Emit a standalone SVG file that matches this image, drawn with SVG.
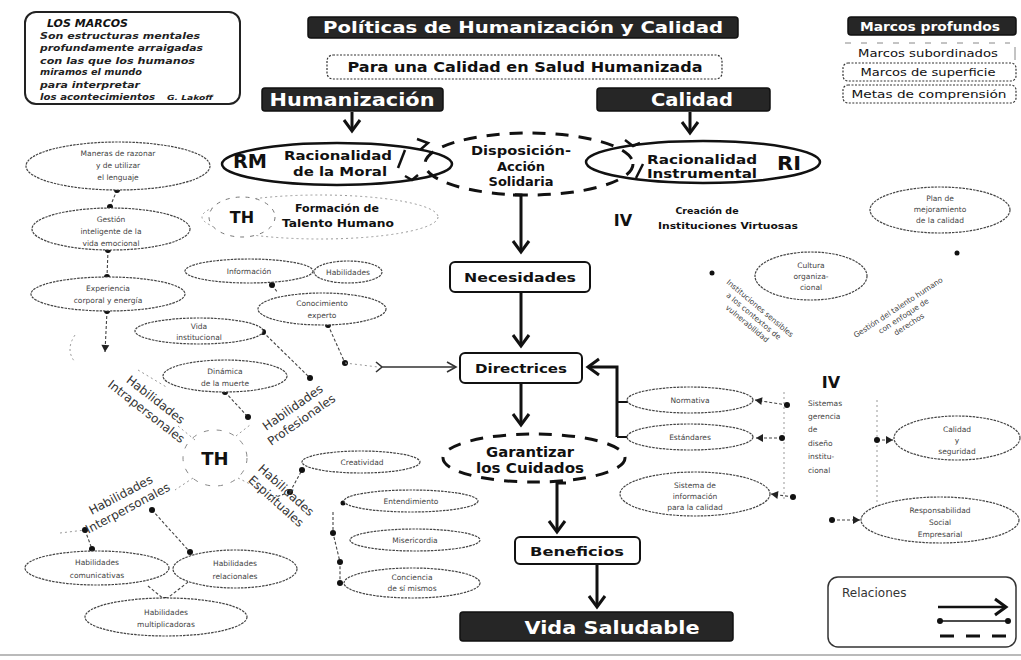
<svg xmlns="http://www.w3.org/2000/svg" width="1021" height="660" viewBox="0 0 1021 660">
<style>
.bg{fill:#fff}
.ban{fill:#262626;stroke:#111;stroke-width:1.5}
.bt{font-family:"DejaVu Sans",sans-serif;font-weight:bold;fill:#fff;text-anchor:middle}
.t{font-family:"DejaVu Sans",sans-serif;fill:#111;text-anchor:middle}
.b{font-weight:bold}
.box{fill:#fff;stroke:#111;stroke-width:2}
.dbox{fill:#fff;stroke:#333;stroke-width:1.2;stroke-dasharray:2 1.5}
.se{fill:#fff;stroke:#444;stroke-width:1.2;stroke-dasharray:2.5 1}
.st{font-family:"DejaVu Sans",sans-serif;font-size:7.5px;fill:#444;text-anchor:middle}
.rl{font-family:"DejaVu Sans",sans-serif;font-size:12px;fill:#333;text-anchor:middle}
.big{fill:none;stroke:#111;stroke-width:2.5}
.dash{fill:none;stroke:#111;stroke-width:3;stroke-dasharray:13 10}
.main{fill:none;stroke:#111;stroke-width:3}
.thin{fill:none;stroke:#444;stroke-width:1.1;stroke-dasharray:3 2}
.faint{fill:none;stroke:#999;stroke-width:1;stroke-dasharray:2 3}
.dot{fill:#111}
</style>
<defs>
<marker id="ah" markerUnits="userSpaceOnUse" markerWidth="20" markerHeight="20" refX="14" refY="10" orient="auto" viewBox="0 0 20 20">
<path d="M3,2 L14,10 L3,18" fill="none" stroke="#111" stroke-width="3"/>
</marker>
<marker id="ahs" markerUnits="userSpaceOnUse" markerWidth="14" markerHeight="14" refX="11" refY="7" orient="auto" viewBox="0 0 14 14">
<path d="M2,2 L11,7 L2,12" fill="none" stroke="#333" stroke-width="1.6"/>
</marker>
<marker id="tri" markerUnits="userSpaceOnUse" markerWidth="10" markerHeight="10" refX="8" refY="5" orient="auto" viewBox="0 0 10 10">
<path d="M1,1 L8,5 L1,9 Z" fill="#222"/>
</marker>
<marker id="md" markerUnits="userSpaceOnUse" markerWidth="8" markerHeight="8" refX="4" refY="4" viewBox="0 0 8 8">
<circle cx="4" cy="4" r="3" fill="#111"/>
</marker>
</defs>
<rect class="bg" x="0" y="0" width="1021" height="660"/>

<!-- Frame: LOS MARCOS -->
<g id="los-marcos">
<rect x="25" y="12" width="215" height="92" rx="11" fill="#fff" stroke="#222" stroke-width="2"/>
<text x="47" y="27" font-family="DejaVu Sans,sans-serif" font-size="11" font-weight="bold" font-style="italic" fill="#111">LOS MARCOS</text>
<g font-family="DejaVu Sans,sans-serif" font-size="8.5" font-weight="bold" font-style="italic" fill="#222">
<text x="40" y="39" textLength="160" lengthAdjust="spacingAndGlyphs">Son estructuras mentales</text>
<text x="40" y="51" textLength="163" lengthAdjust="spacingAndGlyphs">profundamente arraigadas</text>
<text x="40" y="64" textLength="155" lengthAdjust="spacingAndGlyphs">con las que los humanos</text>
<text x="40" y="75" textLength="102" lengthAdjust="spacingAndGlyphs">miramos el mundo</text>
<text x="40" y="88" textLength="100" lengthAdjust="spacingAndGlyphs">para interpretar</text>
<text x="40" y="100" textLength="115" lengthAdjust="spacingAndGlyphs">los acontecimientos</text>
<text x="167" y="100" font-size="7" textLength="46" lengthAdjust="spacingAndGlyphs">G. Lakoff</text>
</g>
</g>

<!-- Title -->
<g id="titulo">
<rect class="ban" x="308" y="17" width="430" height="21" rx="3"/>
<text class="bt" x="523" y="33" font-size="16" textLength="400" lengthAdjust="spacingAndGlyphs">Políticas de Humanización y Calidad</text>
</g>
<g id="subtitulo">
<rect class="dbox" x="327" y="55" width="395" height="24" rx="6"/>
<text class="t b" x="525" y="72" font-size="14" textLength="355" lengthAdjust="spacingAndGlyphs">Para una Calidad en Salud Humanizada</text>
</g>
<g id="humanizacion">
<rect class="ban" x="262" y="88" width="181" height="23" rx="3"/>
<text class="bt" x="352" y="106" font-size="17" textLength="165" lengthAdjust="spacingAndGlyphs">Humanización</text>
</g>
<g id="calidad">
<rect class="ban" x="597" y="88" width="173" height="23" rx="3"/>
<text class="bt" x="692" y="106" font-size="17" textLength="82" lengthAdjust="spacingAndGlyphs">Calidad</text>
</g>

<!-- Marcos legend top right -->
<g id="marcos-profundos">
<rect class="ban" x="848" y="17" width="168" height="18" rx="3"/>
<text class="bt" x="930" y="31" font-size="12" textLength="140" lengthAdjust="spacingAndGlyphs">Marcos profundos</text>
</g>
<g id="marcos-subordinados">
<line x1="845" y1="43" x2="1010" y2="43" stroke="#888" stroke-width="1" stroke-dasharray="6 10"/>
<text class="t" x="928" y="57" font-size="11" fill="#333" textLength="140" lengthAdjust="spacingAndGlyphs">Marcos subordinados</text>
<line x1="1015" y1="47" x2="1015" y2="60" stroke="#888" stroke-width="1"/>
</g>
<g id="marcos-superficie">
<rect class="dbox" x="843" y="63" width="173" height="18" rx="5"/>
<text class="t" x="928" y="76" font-size="11" fill="#333" textLength="135" lengthAdjust="spacingAndGlyphs">Marcos de superficie</text>
</g>
<g id="metas-comprension">
<rect class="dbox" x="843" y="85" width="173" height="18" rx="5"/>
<text class="t" x="929" y="98" font-size="11" fill="#333" textLength="155" lengthAdjust="spacingAndGlyphs">Metas de comprensión</text>
</g>

<!-- Connectors -->
<g id="connectors">
<line class="main" x1="352" y1="112" x2="352" y2="131" marker-end="url(#ah)" stroke-width="2"/>
<line class="main" x1="690" y1="112" x2="690" y2="133" marker-end="url(#ah)" stroke-width="2"/>
<path class="main" d="M513,195 L521,195 L521,252" marker-end="url(#ah)"/>
<line class="main" x1="521" y1="293" x2="521" y2="346" marker-end="url(#ah)"/>
<line class="main" x1="521" y1="384" x2="521" y2="425" marker-end="url(#ah)"/>
<path class="main" d="M566,483 L557,483 L557,532" marker-end="url(#ah)"/>
<line class="main" x1="597" y1="564" x2="597" y2="607" marker-end="url(#ah)"/>
<path d="M376,362 L382,367 L376,372 M382,367 L456,367" fill="none" stroke="#333" stroke-width="1.6" marker-end="url(#ahs)"/>
<path class="main" d="M617,437 L617,367 L588,367" stroke-width="2.5" marker-end="url(#ah)"/>
<line x1="617" y1="402" x2="628" y2="402" stroke="#111" stroke-width="2"/>
<line x1="617" y1="437" x2="628" y2="437" stroke="#111" stroke-width="2"/>
<!-- cycle marks around Disposición -->
<path d="M417,139 L428,143 L420,150" fill="none" stroke="#111" stroke-width="2.5"/>
<path d="M398,168 L405,150" fill="none" stroke="#111" stroke-width="2.5"/>
<path d="M405,176 L412,180 L418,175" fill="none" stroke="#111" stroke-width="2.5"/>
<path d="M625,140 L633,146 L640,143" fill="none" stroke="#111" stroke-width="2.5"/>
<path d="M636,178 L643,164" fill="none" stroke="#111" stroke-width="2.5"/>
<!-- left column -->
<line class="thin" x1="117" y1="190" x2="110" y2="207" marker-start="url(#md)" marker-end="url(#md)"/>
<line class="thin" x1="108" y1="250" x2="107" y2="277" marker-start="url(#md)" marker-end="url(#md)"/>
<line class="thin" x1="107" y1="311" x2="105" y2="352" marker-start="url(#md)" marker-end="url(#tri)"/>
<path class="faint" d="M75,335 Q65,350 75,362"/>
<line class="faint" x1="138" y1="370" x2="168" y2="388"/>
<line class="thin" x1="272" y1="285" x2="278" y2="293" marker-start="url(#md)"/>
<line class="thin" x1="328" y1="325" x2="345" y2="363" marker-start="url(#md)" marker-end="url(#md)"/>
<line class="faint" x1="345" y1="363" x2="378" y2="367"/>
<line class="thin" x1="263" y1="332" x2="310" y2="378" marker-start="url(#md)" marker-end="url(#md)"/>
<line class="thin" x1="225" y1="392" x2="248" y2="417" marker-start="url(#md)" marker-end="url(#md)"/>
<line class="faint" x1="195" y1="440" x2="178" y2="426"/>
<line class="faint" x1="236" y1="436" x2="250" y2="425"/>
<line class="faint" x1="193" y1="478" x2="175" y2="490"/>
<line class="faint" x1="238" y1="478" x2="258" y2="488"/>
<line class="thin" x1="268" y1="500" x2="290" y2="492" marker-end="url(#md)"/>
<line class="thin" x1="290" y1="492" x2="302" y2="470" marker-end="url(#md)"/>
<path class="thin" d="M333,512 L333,533 L340,562 L340,583"/>
<circle class="dot" cx="333" cy="533" r="3"/>
<circle class="dot" cx="340" cy="562" r="3"/>
<circle class="dot" cx="340" cy="583" r="3"/>
<circle class="dot" cx="343" cy="503" r="2.5"/>
<line class="faint" x1="60" y1="533" x2="85" y2="530"/>
<line class="thin" x1="85" y1="530" x2="92" y2="549" marker-start="url(#md)" marker-end="url(#md)"/>
<line class="thin" x1="152" y1="510" x2="190" y2="552" marker-start="url(#md)" marker-end="url(#md)"/>
<line class="thin" x1="148" y1="586" x2="165" y2="600"/>
<line class="thin" x1="192" y1="579" x2="165" y2="600" marker-start="url(#md)" marker-end="url(#md)"/>
<!-- right side -->
<line class="faint" x1="784" y1="392" x2="784" y2="500"/>
<line class="faint" x1="877" y1="400" x2="877" y2="520"/>
<line class="thin" x1="787" y1="405" x2="755" y2="400" marker-start="url(#md)" marker-end="url(#tri)"/>
<line class="thin" x1="782" y1="438" x2="756" y2="438" marker-start="url(#md)" marker-end="url(#tri)"/>
<line class="thin" x1="793" y1="497" x2="771" y2="494" marker-start="url(#md)" marker-end="url(#tri)"/>
<line class="thin" x1="877" y1="440" x2="893" y2="440" marker-start="url(#md)" marker-end="url(#tri)"/>
<line class="thin" x1="832" y1="520" x2="860" y2="520" marker-start="url(#md)" marker-end="url(#tri)"/>
<circle class="dot" cx="712" cy="273" r="2.5"/>
<circle class="dot" cx="957" cy="253" r="2.5"/>
</g>

<!-- Core nodes -->
<g id="rm">
<ellipse class="big" cx="337" cy="164" rx="115" ry="21" fill="#fff"/>
<text class="t b" x="250" y="168" font-size="20" textLength="34" lengthAdjust="spacingAndGlyphs">RM</text>
<text class="t" x="338" y="160" font-size="12" font-weight="600" textLength="108" lengthAdjust="spacingAndGlyphs">Racionalidad</text>
<text class="t" x="340" y="176" font-size="12" font-weight="600" textLength="94" lengthAdjust="spacingAndGlyphs">de la Moral</text>
</g>
<g id="ri">
<ellipse class="big" cx="703" cy="162" rx="117" ry="21" fill="#fff"/>
<text class="t" x="702" y="164" font-size="12" font-weight="600" textLength="110" lengthAdjust="spacingAndGlyphs">Racionalidad</text>
<text class="t" x="702" y="178" font-size="12" font-weight="600" textLength="110" lengthAdjust="spacingAndGlyphs">Instrumental</text>
<text class="t b" x="789" y="170" font-size="20" textLength="24" lengthAdjust="spacingAndGlyphs">RI</text>
</g>
<g id="disposicion">
<ellipse class="dash" cx="529" cy="164" rx="104" ry="31" fill="#fff"/>
<text class="t b" x="521" y="155" font-size="13" textLength="100" lengthAdjust="spacingAndGlyphs">Disposición-</text>
<text class="t b" x="521" y="171" font-size="13">Acción</text>
<text class="t b" x="521" y="186" font-size="13">Solidaria</text>
</g>
<g id="th-formacion">
<ellipse class="faint" cx="320" cy="217" rx="118" ry="22"/>
<ellipse cx="242" cy="217" rx="33" ry="20" fill="#fff" stroke="#777" stroke-width="1" stroke-dasharray="4 6"/>
<text class="t b" x="242" y="223" font-size="16">TH</text>
<text class="t b" x="337" y="212" font-size="10.5" textLength="84" lengthAdjust="spacingAndGlyphs">Formación de</text>
<text class="t b" x="338" y="227" font-size="10.5" textLength="112" lengthAdjust="spacingAndGlyphs">Talento Humano</text>
</g>
<g id="iv-creacion">
<text class="t b" x="623" y="226" font-size="16">IV</text>
<text class="t b" x="707" y="214" font-size="9.5" fill="#222">Creación de</text>
<text class="t b" x="728" y="229" font-size="9.5" fill="#222" textLength="140" lengthAdjust="spacingAndGlyphs">Instituciones Virtuosas</text>
</g>
<g id="necesidades">
<rect class="box" x="450" y="262" width="140" height="30" rx="5"/>
<text class="t b" x="520" y="282" font-size="13" textLength="112" lengthAdjust="spacingAndGlyphs">Necesidades</text>
</g>
<g id="directrices">
<rect class="box" x="460" y="353" width="122" height="30" rx="5"/>
<text class="t b" x="521" y="373" font-size="13" textLength="92" lengthAdjust="spacingAndGlyphs">Directrices</text>
</g>
<g id="garantizar">
<ellipse class="dash" cx="534" cy="458" rx="91" ry="24" fill="#fff"/>
<text class="t b" x="530" y="457" font-size="14" textLength="88" lengthAdjust="spacingAndGlyphs">Garantizar</text>
<text class="t b" x="530" y="473" font-size="14" textLength="108" lengthAdjust="spacingAndGlyphs">los Cuidados</text>
</g>
<g id="beneficios">
<rect class="box" x="515" y="537" width="125" height="27" rx="5"/>
<text class="t b" x="577" y="556" font-size="13" textLength="94" lengthAdjust="spacingAndGlyphs">Beneficios</text>
</g>
<g id="vida-saludable">
<rect class="ban" x="460" y="612" width="273" height="29" rx="3"/>
<text class="bt" x="612" y="634" font-size="18" textLength="175" lengthAdjust="spacingAndGlyphs">Vida Saludable</text>
</g>

<!-- Left small ellipses -->
<g id="maneras"><ellipse class="se" cx="118" cy="166" rx="92" ry="24"/>
<text class="st" x="118" y="156">Maneras de razonar</text><text class="st" x="118" y="168">y de utilizar</text><text class="st" x="118" y="180">el lenguaje</text></g>
<g id="gestion"><ellipse class="se" cx="111" cy="229" rx="79" ry="21"/>
<text class="st" x="111" y="222">Gestión</text><text class="st" x="111" y="234">inteligente de la</text><text class="st" x="111" y="246">vida emocional</text></g>
<g id="experiencia"><ellipse class="se" cx="108" cy="294" rx="77" ry="17"/>
<text class="st" x="108" y="291">Experiencia</text><text class="st" x="108" y="303">corporal y energía</text></g>
<g id="informacion"><ellipse class="se" cx="249" cy="271" rx="64" ry="12"/>
<text class="st" x="249" y="274">Información</text></g>
<g id="habilidades"><ellipse class="se" cx="348" cy="272" rx="34" ry="11"/>
<text class="st" x="348" y="275">Habilidades</text></g>
<g id="conocimiento"><ellipse class="se" cx="322" cy="309" rx="64" ry="16"/>
<text class="st" x="322" y="306">Conocimiento</text><text class="st" x="322" y="318">experto</text></g>
<g id="vida-institucional"><ellipse class="se" cx="199" cy="331" rx="64" ry="13"/>
<text class="st" x="199" y="329">Vida</text><text class="st" x="199" y="340">institucional</text></g>
<g id="dinamica"><ellipse class="se" cx="225" cy="376" rx="62" ry="16"/>
<text class="st" x="225" y="374">Dinámica</text><text class="st" x="225" y="386">de la muerte</text></g>

<!-- TH hub -->
<g id="th">
<ellipse cx="215" cy="458" rx="32" ry="28" fill="none" stroke="#888" stroke-width="1" stroke-dasharray="5 8"/>
<text class="t b" x="215" y="465" font-size="18">TH</text>
</g>
<g id="hab-intrapersonales" transform="translate(150,407) rotate(38)">
<text class="rl" x="0" y="-5">Habilidades</text><text class="rl" x="0" y="10">Intrapersonales</text></g>
<g id="hab-profesionales" transform="translate(298,415) rotate(-35)">
<text class="rl" x="0" y="-5">Habilidades</text><text class="rl" x="0" y="10">Profesionales</text></g>
<g id="hab-interpersonales" transform="translate(125,503) rotate(-28)">
<text class="rl" x="0" y="-5">Habilidades</text><text class="rl" x="0" y="10">Interpersonales</text></g>
<g id="hab-espirituales" transform="translate(280,497) rotate(42)">
<text class="rl" x="0" y="-5">Habilidades</text><text class="rl" x="0" y="10">Espirituales</text></g>

<g id="creatividad"><ellipse class="se" cx="361" cy="462" rx="59" ry="11"/>
<text class="st" x="362" y="465">Creatividad</text></g>
<g id="entendimiento"><ellipse class="se" cx="411" cy="501" rx="67" ry="11"/>
<text class="st" x="411" y="504">Entendimiento</text></g>
<g id="misericordia"><ellipse class="se" cx="415" cy="540" rx="65" ry="11"/>
<text class="st" x="415" y="543">Misericordia</text></g>
<g id="conciencia"><ellipse class="se" cx="412" cy="583" rx="68" ry="15"/>
<text class="st" x="412" y="580">Conciencia</text><text class="st" x="412" y="591">de sí mismos</text></g>
<g id="comunicativas"><ellipse class="se" cx="97" cy="568" rx="72" ry="17"/>
<text class="st" x="97" y="565">Habilidades</text><text class="st" x="97" y="578">comunicativas</text></g>
<g id="relacionales"><ellipse class="se" cx="235" cy="569" rx="62" ry="19"/>
<text class="st" x="235" y="566">Habilidades</text><text class="st" x="235" y="579">relacionales</text></g>
<g id="multiplicadoras"><ellipse class="se" cx="166" cy="617" rx="81" ry="19"/>
<text class="st" x="166" y="615">Habilidades</text><text class="st" x="166" y="627">multiplicadoras</text></g>

<!-- Right side -->
<g id="normativa"><ellipse class="se" cx="690" cy="400" rx="63" ry="13"/>
<text class="st" x="690" y="403">Normativa</text></g>
<g id="estandares"><ellipse class="se" cx="690" cy="437" rx="63" ry="13"/>
<text class="st" x="690" y="440">Estándares</text></g>
<g id="sistema"><ellipse class="se" cx="695" cy="494" rx="75" ry="22"/>
<text class="st" x="695" y="488">Sistema de</text><text class="st" x="695" y="499">información</text><text class="st" x="695" y="510">para la calidad</text></g>
<g id="plan"><ellipse class="se" cx="940" cy="210" rx="70" ry="23"/>
<text class="st" x="940" y="201">Plan de</text><text class="st" x="940" y="212">mejoramiento</text><text class="st" x="940" y="223">de la calidad</text></g>
<g id="cultura"><ellipse class="se" cx="811" cy="276" rx="56" ry="24"/>
<text class="st" x="811" y="268">Cultura</text><text class="st" x="811" y="279">organiza-</text><text class="st" x="811" y="290">cional</text></g>
<g id="diag-izq" transform="translate(752,318) rotate(40)">
<text class="st" x="0" y="-10">Instituciones sensibles</text><text class="st" x="0" y="0">a los contextos de</text><text class="st" x="0" y="10">vulnerabilidad</text></g>
<g id="diag-der" transform="translate(905,318) rotate(-33)">
<text class="st" x="0" y="-10">Gestión del talento humano</text><text class="st" x="0" y="0">con enfoque de</text><text class="st" x="0" y="10">derechos</text></g>
<g id="iv">
<text class="t b" x="831" y="388" font-size="16">IV</text>
<g font-family="DejaVu Sans,sans-serif" font-size="7.5" fill="#444">
<text x="808" y="406">Sistemas</text><text x="808" y="419">gerencia</text><text x="808" y="432">de</text><text x="808" y="446">diseño</text><text x="808" y="459">institu-</text><text x="808" y="473">cional</text></g>
</g>
<g id="calidad-seguridad"><ellipse class="se" cx="957" cy="438" rx="63" ry="22"/>
<text class="st" x="957" y="432">Calidad</text><text class="st" x="957" y="443">y</text><text class="st" x="957" y="454">seguridad</text></g>
<g id="responsabilidad"><ellipse class="se" cx="940" cy="520" rx="79" ry="23"/>
<text class="st" x="940" y="513">Responsabilidad</text><text class="st" x="940" y="525">Social</text><text class="st" x="940" y="537">Empresarial</text></g>

<!-- Relaciones legend -->
<g id="relaciones">
<rect x="828" y="577" width="188" height="70" rx="10" fill="#fff" stroke="#333" stroke-width="1.5"/>
<text x="842" y="597" font-family="DejaVu Sans,sans-serif" font-size="12" fill="#333">Relaciones</text>
<line x1="938" y1="607" x2="1006" y2="607" stroke="#111" stroke-width="2.5" marker-end="url(#ah)"/>
<line x1="940" y1="621" x2="1008" y2="621" stroke="#111" stroke-width="1.5" marker-start="url(#md)" marker-end="url(#md)"/>
<line x1="940" y1="636" x2="1010" y2="636" stroke="#111" stroke-width="3" stroke-dasharray="14 12"/>
</g>
<line x1="0" y1="655" x2="1021" y2="655" stroke="#777" stroke-width="1.2"/>
</svg>
